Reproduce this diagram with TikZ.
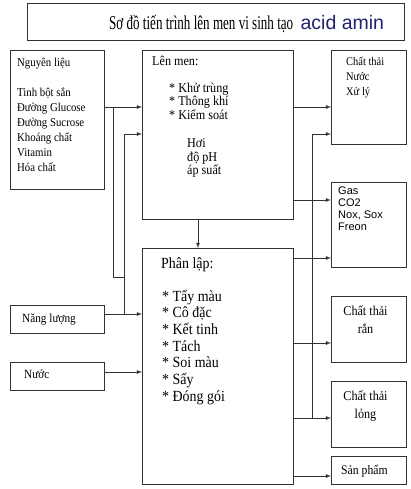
\documentclass[tikz,border=0pt]{standalone}
\usepackage{fontspec}
\setmainfont{Liberation Serif}[FakeStretch=0.9]
\setsansfont{Liberation Sans}
\newfontfamily\titlefont{Liberation Serif}[FakeStretch=0.67]
\usetikzlibrary{arrows,positioning}
\definecolor{navy}{RGB}{32,32,112}
% lines of text, base on the first line
\newcommand\lines[1]{\vtop{\lineskiplimit=-\maxdimen\halign{##\hfil\cr#1\crcr}}}
\newcommand\clines[1]{\vtop{\lineskiplimit=-\maxdimen\halign{\hfil##\hfil\cr#1\crcr}}}

\begin{document}
\begin{tikzpicture}[x=1pt,y=-1pt,
box/.style={draw=black!80,line width=0.9pt,anchor=north west,inner sep=0pt},
txt/.style={anchor=base west,inner sep=0pt},
line/.style={draw=black!80,line width=0.8pt},
arr/.style={line,-latex}]
\useasboundingbox (0,0) rectangle (411,489);
% boxes
\node[box,minimum width=377pt,minimum height=37pt](title) at (27,3){};
\node[box,minimum width=94pt,minimum height=139pt](nguyen) at (10,50){};
\node[box,minimum width=151pt,minimum height=169pt](lenmen) at (142,50){};
\node[box,minimum width=75pt,minimum height=94pt](nuocthai) at (331,50){};
\node[box,minimum width=75pt,minimum height=85pt](gas) at (331,182){};
\node[box,minimum width=151pt,minimum height=236pt](phanlap) at (142,248){};
\node[box,minimum width=94pt,minimum height=28pt](nangluong) at (10,305){};
\node[box,minimum width=94pt,minimum height=28pt](nuoc) at (10,362){};
\node[box,minimum width=75pt,minimum height=66pt](ran) at (331,296){};
\node[box,minimum width=75pt,minimum height=66pt](long) at (331,381){};
\node[box,minimum width=75pt,minimum height=28pt](sanpham) at (331,456){};
% texts
\node[txt,font=\titlefont\fontsize{19.5}{22}\selectfont](ttl) at ([shift={(82,27)}]title.north west){Sơ đồ tiến trình lên men vi sinh tạo};
\node[txt,font=\sffamily\fontsize{19.5}{22}\selectfont,text=navy](acid)[right=7pt of ttl.base east,anchor=base west]{acid amin};
\node[txt,font=\fontsize{12}{15}\selectfont](nguyenT) at ([shift={(7,17)}]nguyen.north west){Nguyên liệu};
\node[txt,font=\fontsize{12}{15}\selectfont](nguyenL) at ([shift={(7,47)}]nguyen.north west){\lines{Tinh bột sắn\cr Đường Glucose\cr Đường Sucrose\cr Khoáng chất\cr Vitamin\cr Hóa chất}};
\node[txt,font=\fontsize{13.5}{13.5}\selectfont](lenmenT) at ([shift={(10,16)}]lenmen.north west){Lên men:};
\node[txt,font=\fontsize{13.5}{13.3}\selectfont](lenmenL) at ([shift={(27,42.7)}]lenmen.north west){\lines{* Khử trùng\cr * Thông khí\cr * Kiểm soát}};
\node[txt,font=\fontsize{13.5}{13.5}\selectfont](lenmenP) at ([shift={(45,98)}]lenmen.north west){\lines{Hơi\cr độ pH\cr áp suất}};
\node[txt,font=\fontsize{11.6}{15}\selectfont](nuocthaiT) at ([shift={(15,16)}]nuocthai.north west){\lines{Chất thải\cr Nước\cr Xử lý}};
\node[txt,font=\sffamily\fontsize{11}{12.3}\selectfont](gasT) at ([shift={(7,12)}]gas.north west){\lines{Gas\cr CO2\cr Nox, Sox\cr Freon}};
\node[txt,font=\fontsize{15.5}{16.7}\selectfont](phanlapT) at ([shift={(19,20)}]phanlap.north west){Phân lập:};
\node[txt,font=\fontsize{15.5}{16.7}\selectfont](phanlapL) at ([shift={(20,53)}]phanlap.north west){\lines{* Tẩy màu\cr * Cô đặc\cr * Kết tinh\cr * Tách\cr * Soi màu\cr * Sấy\cr * Đóng gói}};
\node[txt,font=\fontsize{12.5}{15}\selectfont](nangluongT) at ([shift={(12,17)}]nangluong.north west){Năng lượng};
\node[txt,font=\fontsize{12.5}{15}\selectfont](nuocT) at ([shift={(14,16)}]nuoc.north west){Nước};
\node[txt,anchor=base,font=\fontsize{13.5}{18}\selectfont](ranT) at ([shift={(34.5,19)}]ran.north west){\clines{Chất thải\cr rắn}};
\node[txt,anchor=base,font=\fontsize{13.5}{18}\selectfont](longT) at ([shift={(34.5,19)}]long.north west){\clines{Chất thải\cr lỏng}};
\node[txt,font=\fontsize{13}{15}\selectfont](sanphamT) at ([shift={(10,18)}]sanpham.north west){Sản phẩm};
% bus lines
\coordinate (busA) at (113,107);
\coordinate (busAend) at (113,277);
\coordinate (busB) at (124,134);
\coordinate (busBend) at (124,314);
\coordinate (nuocA) at (120,372);
\coordinate (drop) at (198,230);
\coordinate (busC) at (312,134);
\coordinate (busCend) at (312,418);
\coordinate (gasA) at (320,200);
\coordinate (gasB) at (320,258);
\coordinate (ranA) at (320,343);
\coordinate (spA) at (320,476);
% inputs
\draw[arr](nguyen.east |- busA)--(lenmen.west |- busA);
\draw[line](busA)--(busAend)--(busAend -| busB);
\draw[arr](busB)--(lenmen.west |- busB);
\draw[line](busB)--(busBend);
\draw[arr](nangluong.east |- busBend)--(phanlap.west |- busBend);
\draw[arr](nuoc.east |- nuocA)--(phanlap.west |- nuocA);
\draw[arr](lenmen.south -| drop)--(phanlap.north -| drop);
% outputs
\draw[arr](lenmen.east |- busA)--(nuocthai.west |- busA);
\draw[arr](busC)--(nuocthai.west |- busC);
\draw[line](busC)--(busCend);
\draw[arr](phanlap.east |- busCend)--(long.west |- busCend);
\draw[arr](lenmen.east |- gasA)--(gas.west |- gasA);
\draw[arr](phanlap.east |- gasB)--(gas.west |- gasB);
\draw[arr](phanlap.east |- ranA)--(ran.west |- ranA);
\draw[arr](phanlap.east |- spA)--(sanpham.west |- spA);
\end{tikzpicture}
\end{document}
